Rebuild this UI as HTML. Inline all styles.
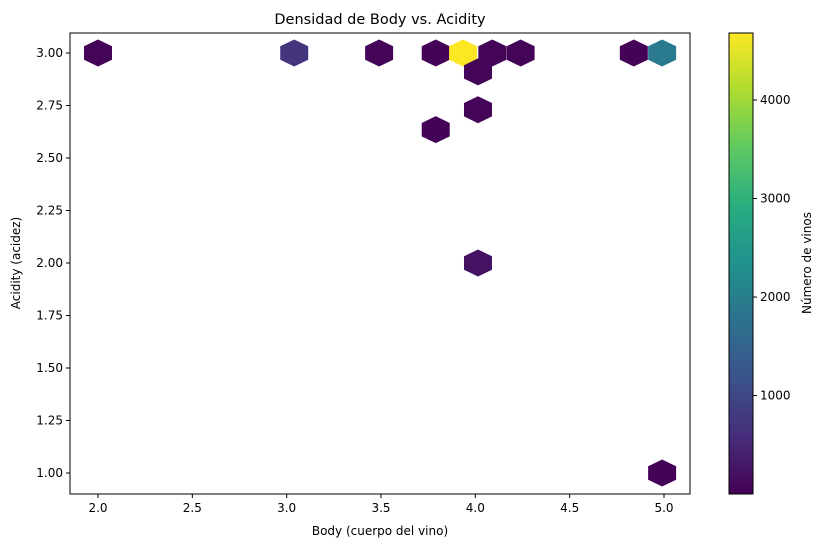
<!DOCTYPE html>
<html><head><meta charset="utf-8"><style>
body{margin:0;background:#fff}
text{font-family:"DejaVu Sans","Liberation Sans",sans-serif;fill:#000}
</style></head><body>
<svg id="chart" width="826" height="547" viewBox="0 0 826 547">
<defs><linearGradient id="vir" x1="0" y1="1" x2="0" y2="0">
<stop offset="0" stop-color="#440154"/><stop offset="0.125" stop-color="#472d7b"/><stop offset="0.25" stop-color="#3b528b"/><stop offset="0.375" stop-color="#2c728e"/><stop offset="0.5" stop-color="#21918c"/><stop offset="0.625" stop-color="#28ae80"/><stop offset="0.75" stop-color="#5ec962"/><stop offset="0.875" stop-color="#addc30"/><stop offset="1" stop-color="#fde725"/></linearGradient></defs>
<g id="plot"></g>
</svg>
<script>
const bodyVals=[2.0,3.04,3.49,3.79,3.935,4.09,4.24,4.84,4.99,4.014,4.014,3.79,4.014,4.99];
const acidVals=[3.0,3.0,3.0,3.0,3.0,3.0,3.0,3.0,3.0,2.91,2.73,2.635,2.0,1.0];
const counts=[60,700,40,30,4680,50,40,30,1900,60,40,30,230,30];
const xTicks=[2.0,2.5,3.0,3.5,4.0,4.5,5.0];
const yTicks=[1.00,1.25,1.50,1.75,2.00,2.25,2.50,2.75,3.00];
const cTicks=[1000,2000,3000,4000];
const cMin=1,cMax=4680;
const NS="http://www.w3.org/2000/svg";
const g=document.getElementById('plot');
const L=70,R=690,T=33,B=494;
const xs=v=>98+(v-2)*188.67;
const ys=v=>473-(v-1)*210;
const cbT=33,cbB=494,cbX=729,cbW=24;
const cs=v=>cbB-(v-cMin)/(cMax-cMin)*(cbB-cbT);
const vir=["#440154","#472d7b","#3b528b","#2c728e","#21918c","#28ae80","#5ec962","#addc30","#fde725"];
function hx(h){return[parseInt(h.substr(1,2),16),parseInt(h.substr(3,2),16),parseInt(h.substr(5,2),16)];}
function color(v){let t=Math.max(0,Math.min(1,(v-cMin)/(cMax-cMin)))*8;let i=Math.min(7,Math.floor(t)),f=t-i;let a=hx(vir[i]),b=hx(vir[i+1]);return`rgb(${a.map((x,k)=>Math.round(x+(b[k]-x)*f)).join(',')})`;}
function el(tag,attrs,txt){const e=document.createElementNS(NS,tag);for(const k in attrs)e.setAttribute(k,attrs[k]);if(txt!==undefined)e.textContent=txt;g.appendChild(e);return e;}
for(let i=0;i<counts.length;i++){
 const cx=xs(bodyVals[i]),cy=ys(acidVals[i]);
 const pts=[[0,-13.5],[14,-6.7],[14,6.7],[0,13.5],[-14,6.7],[-14,-6.7]].map(p=>(cx+p[0])+','+(cy+p[1])).join(' ');
 const h=el('polygon',{points:pts,fill:color(counts[i])});
 
 
}
const fr=el('rect',{x:L,y:T,width:R-L,height:B-T,fill:'none',stroke:'#000','stroke-width':1});

xTicks.forEach(v=>{const x=xs(v);el('line',{x1:x,x2:x,y1:B,y2:B+4,stroke:'#000'});
 const t=el('text',{x:x,y:B+18,'text-anchor':'middle','font-size':12},v.toFixed(1));
 });
yTicks.forEach(v=>{const y=ys(v);el('line',{x1:L-4,x2:L,y1:y,y2:y,stroke:'#000'});
 const t=el('text',{x:L-7,y:y+4,'text-anchor':'end','font-size':12},v.toFixed(2));
 });
const cb=el('rect',{x:cbX,y:cbT,width:cbW,height:cbB-cbT,fill:'url(#vir)',stroke:'#000','stroke-width':1});

cTicks.forEach(v=>{const y=cs(v);el('line',{x1:cbX+cbW,x2:cbX+cbW+4,y1:y,y2:y,stroke:'#000'});
 const t=el('text',{x:cbX+cbW+7,y:y+4,'font-size':12},String(v));
 });
const ti=el('text',{x:380,y:24,'text-anchor':'middle','font-size':14.5},'Densidad de Body vs. Acidity');

const xl=el('text',{x:380,y:535,'text-anchor':'middle','font-size':12},'Body (cuerpo del vino)');

const yl=el('text',{x:20,y:263,'text-anchor':'middle','font-size':12,transform:'rotate(-90 20 263)'},'Acidity (acidez)');

const cl=el('text',{x:811,y:263,'text-anchor':'middle','font-size':12,transform:'rotate(-90 811 263)'},'Número de vinos');

</script>
</body></html>
